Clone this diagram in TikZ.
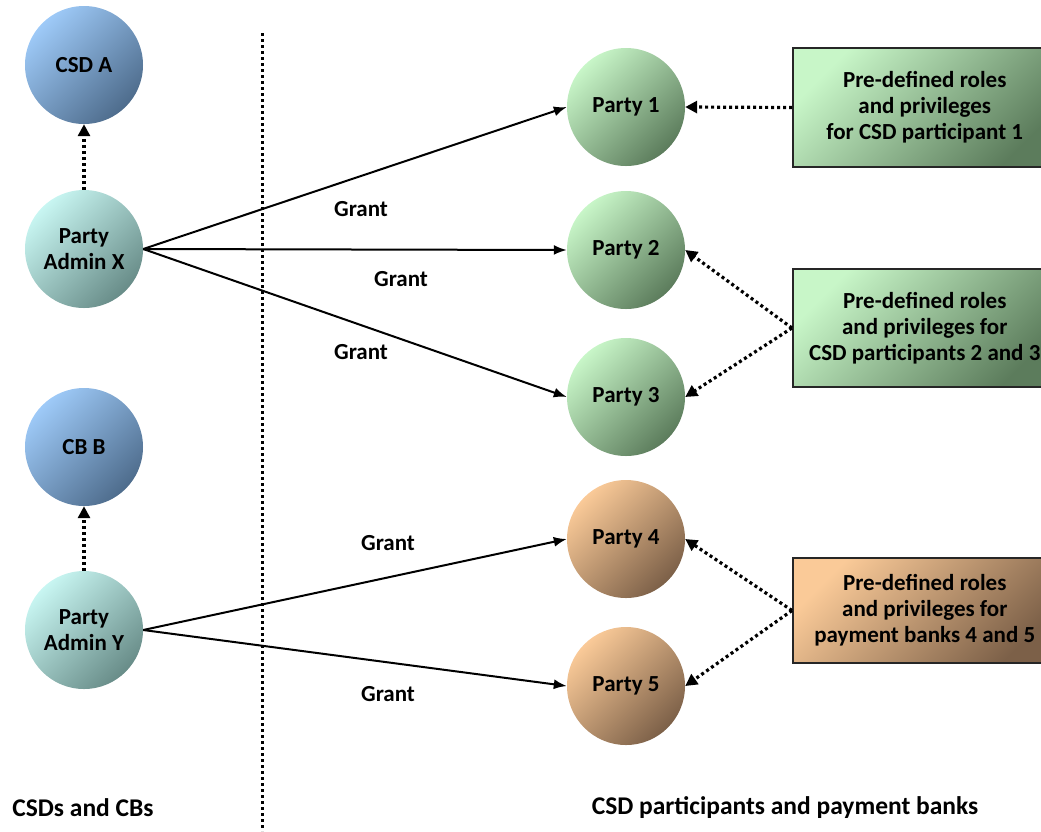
\documentclass[tikz,border=0pt]{standalone}
\usepackage{fontspec}
\setmainfont{Carlito}
\usetikzlibrary{arrows.meta,shapes.geometric}
\definecolor{blueL}{RGB}{158,202,248}
\definecolor{blueD}{RGB}{78,108,140}
\definecolor{cyanL}{RGB}{200,246,242}
\definecolor{cyanD}{RGB}{104,140,136}
\definecolor{greenL}{RGB}{200,246,200}
\definecolor{greenD}{RGB}{92,124,92}
\definecolor{orangeL}{RGB}{250,202,152}
\definecolor{orangeD}{RGB}{124,96,72}
\tikzset{
  txt/.style={font=\fontsize{23}{26}\selectfont\bfseries, align=center},
  ball/.style={circle, minimum size=118pt, inner sep=0pt, txt},
  blueball/.style={ball, top color=blueL, bottom color=blueD, shading angle=45},
  cyanball/.style={ball, top color=cyanL, bottom color=cyanD, shading angle=45},
  greenball/.style={ball, top color=greenL, bottom color=greenD, shading angle=45},
  orangeball/.style={ball, top color=orangeL, bottom color=orangeD, shading angle=45},
  rolebox/.style={rectangle, draw=black!85, line width=1.5pt, minimum width=264pt, txt, anchor=west},
  greenbox/.style={rolebox, top color=greenL, bottom color=greenD, shading angle=45},
  orangebox/.style={rolebox, top color=orangeL, bottom color=orangeD, shading angle=45},
  grant/.style={-{Latex[length=13pt,width=10pt]}, line width=2pt},
  dotarrow/.style={-{Triangle[length=12pt,width=12pt]}, line width=3.2pt, dash pattern=on 3pt off 3pt},
  lbl/.style={txt},
  bottomlbl/.style={font=\fontsize{25.5}{28}\selectfont\bfseries},
}
\begin{document}
\begin{tikzpicture}[x=1pt,y=-1pt]
\useasboundingbox (0,0) rectangle (1041,831);
% separator
\coordinate (sepT) at (262,33);
\coordinate (sepB) at (262,831);
\draw[line width=3pt, dash pattern=on 3pt off 3pt] (sepT) -- (sepB);
% left nodes
\node[blueball] (csda) at (84,65) {CSD A};
\node[cyanball] (adx) at (84,249) {Party\\Admin X};
\node[blueball] (cbb) at (84,447) {CB B};
\node[cyanball] (ady) at (84,630) {Party\\Admin Y};
% right nodes
\node[greenball] (p1) at (626,107) {Party 1};
\node[greenball] (p2) at (626,250) {Party 2};
\node[greenball] (p3) at (626,397) {Party 3};
\node[orangeball] (p4) at (626,539) {Party 4};
\node[orangeball] (p5) at (626,686) {Party 5};
% boxes
\node[greenbox, minimum height=119pt] (b1) at (792,107.5) {Pre-defined roles\\and privileges\\for CSD participant 1};
\node[greenbox, minimum height=118pt] (b2) at (792,328) {Pre-defined roles\\and privileges for\\CSD participants 2 and 3};
\node[orangebox, minimum height=105pt] (b3) at (792,610.5) {Pre-defined roles\\and privileges for\\payment banks 4 and 5};
% arrows
\draw[dotarrow] (adx) -- (csda);
\draw[dotarrow] (ady) -- (cbb);
\draw[grant] (adx.east) -- (p1.west);
\draw[grant] (adx.east) -- (p2.west);
\draw[grant] (adx.east) -- (p3.west);
\draw[grant] (ady.east) -- (p4.west);
\draw[grant] (ady.east) -- (p5.west);
\draw[dotarrow] (b1.west) -- (p1.east);
\draw[dotarrow] (b2.west) -- (p2.east);
\draw[dotarrow] (b2.west) -- (p3.east);
\draw[dotarrow] (b3.west) -- (p4.east);
\draw[dotarrow] (b3.west) -- (p5.east);
% labels
\node[lbl] (g1) at (361,209) {Grant};
\node[lbl] (g2) at (401,279) {Grant};
\node[lbl] (g3) at (361,352) {Grant};
\node[lbl] (g4) at (388,543) {Grant};
\node[lbl] (g5) at (388,694) {Grant};
\node[bottomlbl] (l1) at (83,808) {CSDs and CBs};
\node[bottomlbl] (l2) at (785,808) {CSD participants and payment banks};
\end{tikzpicture}
\end{document}
